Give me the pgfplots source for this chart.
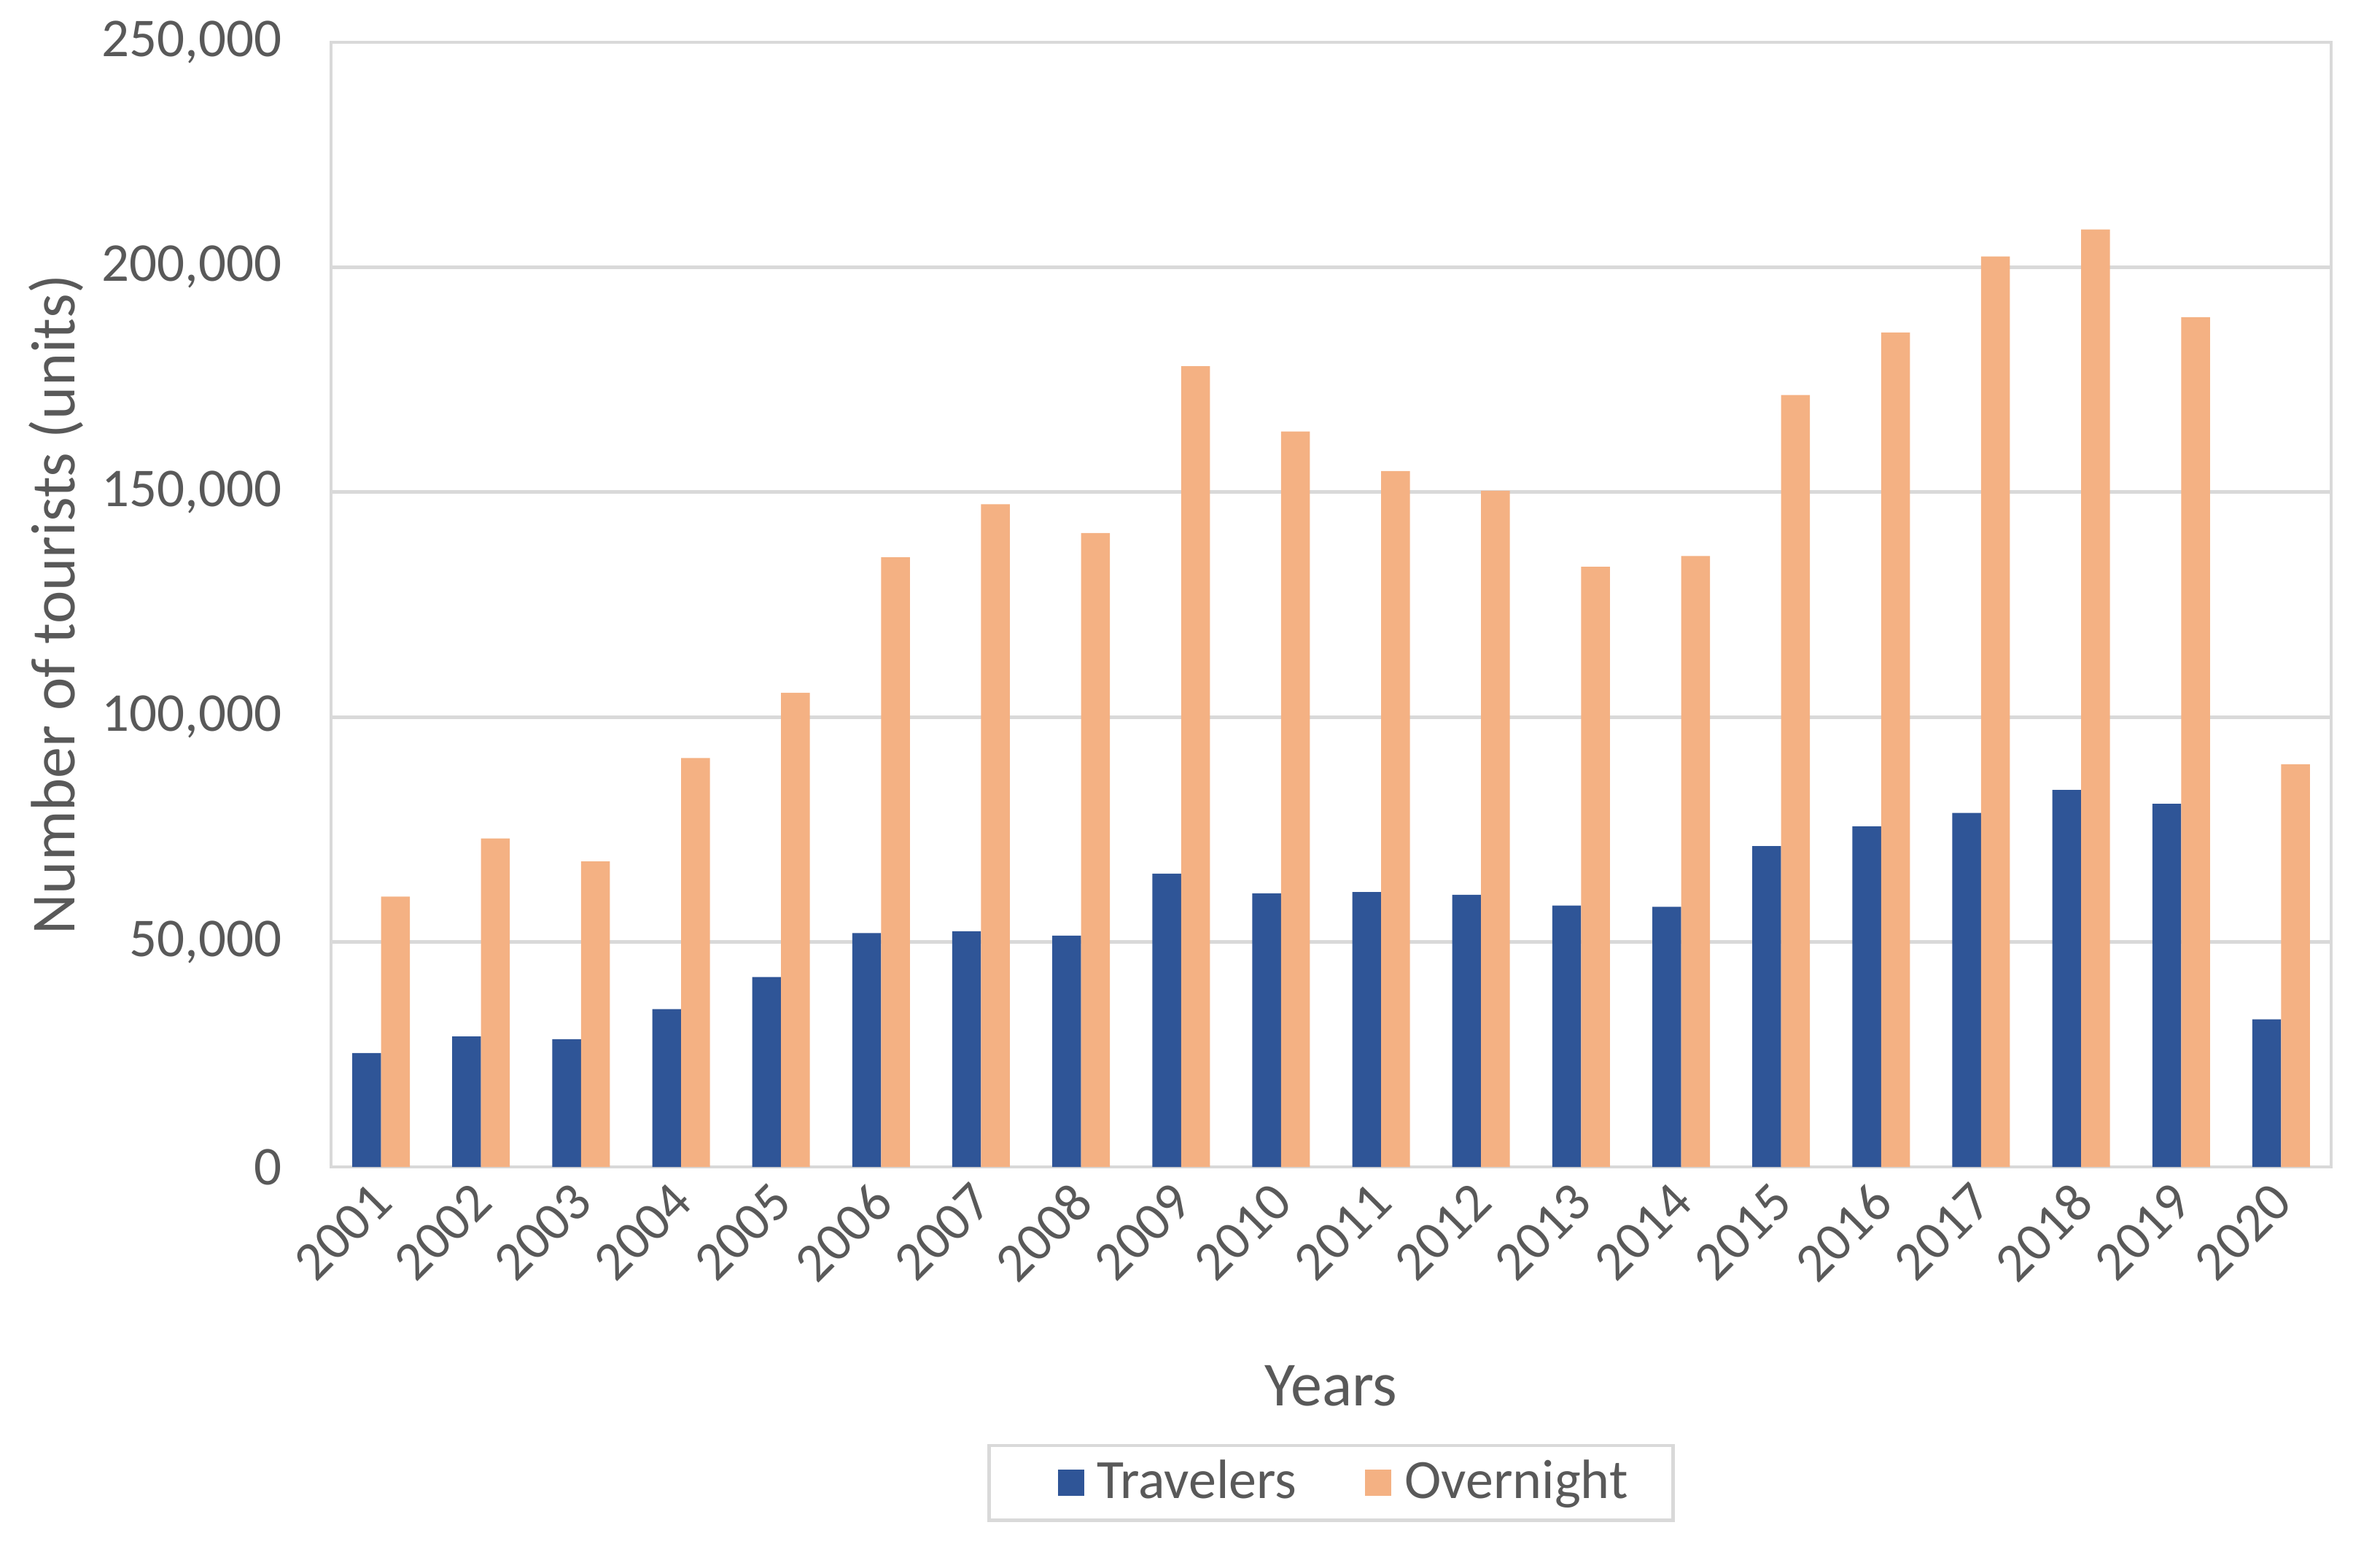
\documentclass[border=0pt]{standalone}
\usepackage{pgfplots}
\pgfplotsset{compat=1.18}
\usepackage{fontspec}
\setmainfont{Carlito}
\definecolor{trav}{HTML}{2F5597}
\definecolor{over}{HTML}{F4B183}
\definecolor{txt}{HTML}{595959}
\definecolor{gridc}{HTML}{D9D9D9}
\begin{document}
\begin{tikzpicture}
\path[use as bounding box] (-68.1bp,-79.2bp) rectangle (421.5bp,240bp);
\begin{axis}[
  at={(0,0)}, anchor=south west,
  scale only axis, width=411.45bp, height=231.3bp,
  xmin=-0.5, xmax=19.5, ymin=0, ymax=250000,
  ytick={0,50000,100000,150000,200000,250000},
  scaled y ticks=false,
  yticklabel style={xshift=-6.6bp, /pgf/number format/fixed, /pgf/number format/1000 sep={,}, /pgf/number format/assume math mode=true},
  xtick={0,...,19},
  xticklabels={2001,2002,2003,2004,2005,2006,2007,2008,2009,2010,2011,2012,2013,2014,2015,2016,2017,2018,2019,2020},
  ymajorgrids, grid style={gridc, line width=0.7bp},
  axis line style={gridc, line width=0.7bp},
  major tick length=0pt,
  tick label style={font=\fontsize{11.25bp}{13bp}\selectfont, text=txt},
  xticklabel style={rotate=45, anchor=north east, inner sep=1.7bp, xshift=-1.7bp, yshift=1.7bp},
  xlabel={Years}, ylabel={Number of tourists (units)},
  label style={font=\fontsize{12.9bp}{15bp}\selectfont, text=txt},
  xlabel style={at={(axis description cs:0.5,0)}, anchor=center, yshift=-45bp},
  ylabel style={at={(axis description cs:0,0.5)}, anchor=center, yshift=56.55bp},
  ybar, bar width=0.288,
  legend image code/.code={\path (-6.8bp,0bp) (6.1bp,0bp); \fill[#1] (0bp,-2.7bp) rectangle (5.4bp,2.7bp);},
  legend style={at={(axis description cs:0.5,0)}, anchor=center, yshift=-65bp,
    legend columns=2, draw=gridc, line width=0.7bp,
    font=\fontsize{11.4bp}{13bp}\selectfont, text=txt,
    inner xsep=7.3bp, inner ysep=1bp,
    /tikz/every even column/.append style={column sep=5.3bp}},
  legend cell align=left,
]
\addplot[fill=trav, draw=none, bar shift=-0.144] coordinates {
(0,25300) (1,29000) (2,28400) (3,35100) (4,42200) (5,52000) (6,52400) (7,51400) (8,65200) (9,60800)
(10,61100) (11,60500) (12,58100) (13,57800) (14,71300) (15,75700) (16,78700) (17,83800) (18,80700) (19,32800)};
\addplot[fill=over, draw=none, bar shift=0.144] coordinates {
(0,60100) (1,73000) (2,67900) (3,90900) (4,105400) (5,135500) (6,147300) (7,140900) (8,178000) (9,163500)
(10,154700) (11,150300) (12,133400) (13,135800) (14,171600) (15,185500) (16,202400) (17,208400) (18,188900) (19,89500)};
\legend{Travelers, Overnight}
\end{axis}
\end{tikzpicture}
\end{document}
